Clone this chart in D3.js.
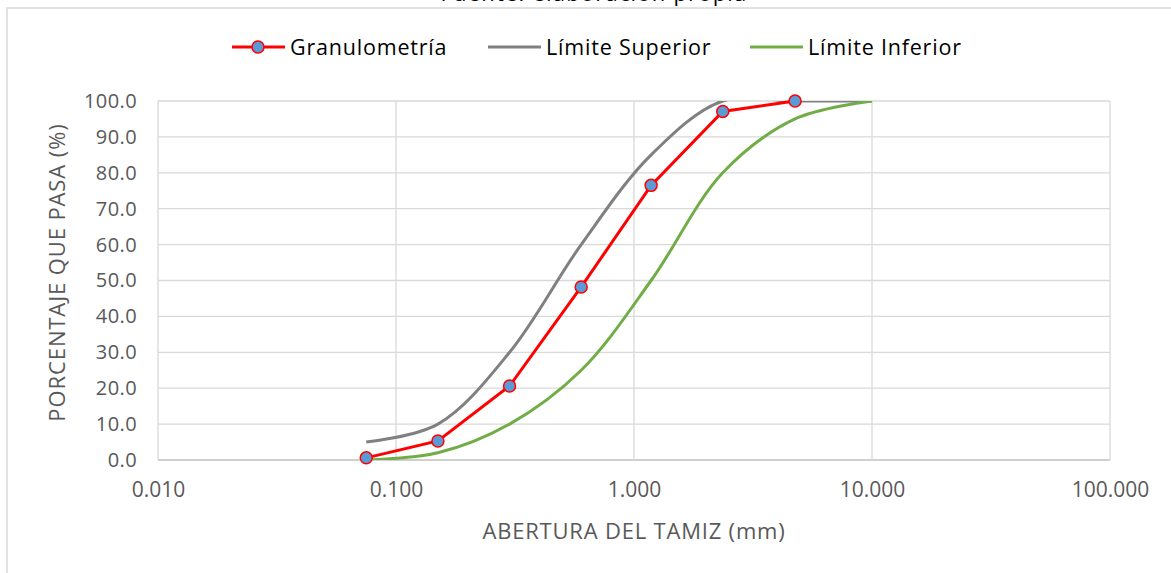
<!DOCTYPE html>
<html>
<head>
<meta charset="utf-8">
<script src="https://cdn.jsdelivr.net/npm/d3@7"></script>
<style>
  body { margin: 0; background: #fff; }
  svg text { font-family: "Open Sans", Lato, sans-serif; }
</style>
</head>
<body>
<div id="chart"></div>
<script>
// sieve openings (mm) and percent passing
var sieves = [0.075, 0.15, 0.3, 0.6, 1.18, 2.36, 4.75];
var granulometria = [0.6, 5.3, 20.6, 48.2, 76.5, 97.1, 100.0];

var limitSieves = [0.075, 0.15, 0.3, 0.6, 1.18, 2.36, 4.75, 10];
var limiteSuperior = [5, 10, 30, 60, 85, 100, 100, 100];
var limiteInferior = [0, 2, 10, 25, 50, 80, 95, 100];

var xTicks = [0.01, 0.1, 1, 10, 100];
var yTicks = [0, 10, 20, 30, 40, 50, 60, 70, 80, 90, 100];

var width = 1171, height = 573;
var margin = {top: 101, right: 61, bottom: 113, left: 158};

var svg = d3.select("#chart").append("svg")
    .attr("width", width)
    .attr("height", height);

// chart frame
svg.append("path")
    .attr("d", "M7,580 V8 H1180")
    .attr("fill", "none")
    .attr("stroke", "#d9d9d9")
    .attr("stroke-width", 1.5);

// caption above the chart (mostly cut off, as in the source)
svg.append("text")
    .attr("x", 594).attr("y", 1)
    .attr("text-anchor", "middle")
    .style("font-size", "22px")
    .style("letter-spacing", "1.2px")
    .style("fill", "#000")
    .text("Fuente: elaboración propia");

var x = d3.scaleLog()
    .domain([0.01, 100])
    .range([margin.left, width - margin.right]);

var y = d3.scaleLinear()
    .domain([0, 100])
    .range([height - margin.bottom, margin.top]);

svg.append("clipPath").attr("id", "plot")
    .append("rect")
    .attr("x", margin.left).attr("y", margin.top)
    .attr("width", width - margin.left - margin.right)
    .attr("height", height - margin.top - margin.bottom);

// gridlines
var grid = svg.append("g");
grid.selectAll("line.h")
    .data(yTicks)
    .join("line")
    .attr("class", "h")
    .attr("x1", margin.left).attr("x2", width - margin.right)
    .attr("y1", d => y(d)).attr("y2", d => y(d))
    .attr("stroke", d => d == 0 ? "#bfbfbf" : "#d9d9d9")
    .attr("stroke-width", 1.3);
grid.selectAll("line.v")
    .data(xTicks)
    .join("line")
    .attr("class", "v")
    .attr("x1", d => x(d)).attr("x2", d => x(d))
    .attr("y1", y(100)).attr("y2", y(0))
    .attr("stroke", "#d9d9d9")
    .attr("stroke-width", 1.3);

// axes (labels only)
var yAxis = svg.append("g")
    .attr("transform", "translate(" + margin.left + ",0)")
    .call(d3.axisLeft(y).tickValues(yTicks).tickFormat(d3.format(".1f")).tickSize(0).tickPadding(21));
var xAxis = svg.append("g")
    .attr("transform", "translate(0," + (height - margin.bottom) + ")")
    .call(d3.axisBottom(x).tickValues(xTicks).tickFormat(d3.format(".3f")).tickSize(0).tickPadding(22));
yAxis.selectAll("text").style("font-size", "20px").style("letter-spacing", "0.4px");
xAxis.selectAll("text").style("font-size", "21px");
[yAxis, xAxis].forEach(function(a) {
    a.select(".domain").remove();
    a.selectAll("text").style("fill", "#595959")
        .style("font-family", "'Open Sans', Lato, sans-serif");
});

// axis titles
svg.append("text")
    .attr("x", x(1)).attr("y", 539)
    .attr("text-anchor", "middle")
    .style("font-size", "22px").style("fill", "#595959")
    .style("letter-spacing", "0.8px")
    .text("ABERTURA DEL TAMIZ (mm)");
svg.append("text")
    .attr("transform", "translate(65," + (y(50) - 8) + ") rotate(-90)")
    .attr("text-anchor", "middle")
    .style("font-size", "22px").style("fill", "#595959")
    .style("letter-spacing", "0.9px")
    .text("PORCENTAJE QUE PASA (%)");

// limit curves (smoothed, clipped to the plot area)
var smooth = d3.line()
    .x((d, i) => x(limitSieves[i]))
    .y(d => y(d))
    .curve(d3.curveCatmullRom.alpha(0.5));

var curves = svg.append("g").attr("clip-path", "url(#plot)");
curves.append("path")
    .attr("d", smooth(limiteSuperior))
    .attr("fill", "none").attr("stroke", "#808080").attr("stroke-width", 3);
curves.append("path")
    .attr("d", smooth(limiteInferior))
    .attr("fill", "none").attr("stroke", "#70ad47").attr("stroke-width", 3);

// granulometry
var straight = d3.line()
    .x((d, i) => x(sieves[i]))
    .y(d => y(d));
svg.append("path")
    .attr("d", straight(granulometria))
    .attr("fill", "none").attr("stroke", "#ff0000").attr("stroke-width", 3);
svg.selectAll("circle.pt")
    .data(granulometria)
    .join("circle")
    .attr("class", "pt")
    .attr("cx", (d, i) => x(sieves[i]))
    .attr("cy", d => y(d))
    .attr("r", 6)
    .attr("fill", "#5b9bd5")
    .attr("stroke", "#ff0000")
    .attr("stroke-width", 1.5);

// legend
var legendItems = [
    {name: "Granulometría", color: "#ff0000", x0: 232, marker: true},
    {name: "Límite Superior", color: "#808080", x0: 488, marker: false},
    {name: "Límite Inferior", color: "#70ad47", x0: 750, marker: false}
];
var legend = svg.append("g");
legendItems.forEach(function(it) {
    var g = legend.append("g");
    g.append("line")
        .attr("x1", it.x0).attr("x2", it.x0 + 53)
        .attr("y1", 47).attr("y2", 47)
        .attr("stroke", it.color).attr("stroke-width", 3);
    if (it.marker) {
        g.append("circle")
            .attr("cx", it.x0 + 26).attr("cy", 47).attr("r", 6)
            .attr("fill", "#5b9bd5").attr("stroke", "#ff0000").attr("stroke-width", 1.5);
    }
    g.append("text")
        .attr("x", it.x0 + 58).attr("y", 47)
        .attr("dy", "0.35em")
        .style("font-size", "21.5px").style("fill", "#000")
        .style("letter-spacing", "0.8px")
        .text(it.name);
});
</script>
</body>
</html>
